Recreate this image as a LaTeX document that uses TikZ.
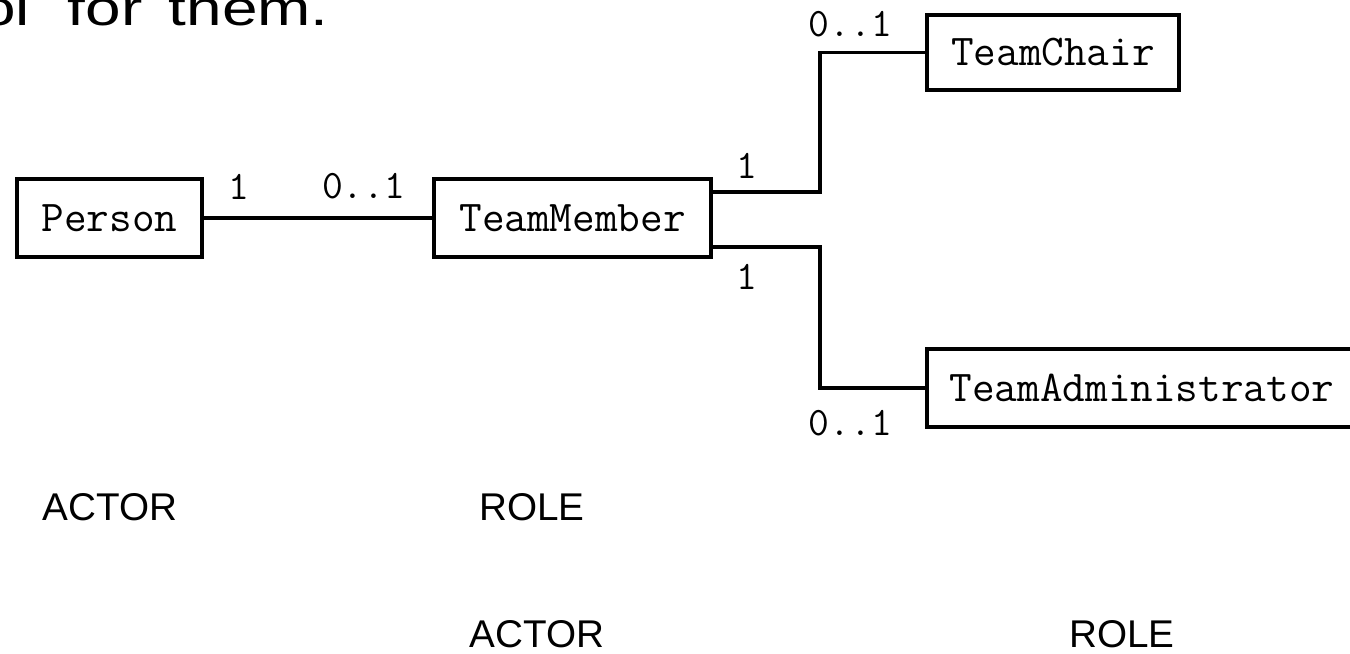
\documentclass[tikz,border=0pt]{standalone}
\usepackage{fontspec}
\usepackage{tikz}
\usetikzlibrary{positioning}
\newfontfamily\slidefont{Liberation Sans}

\begin{document}
\begin{tikzpicture}[x=0.2mm, y=0.2mm,
    box/.style={draw, line width=2pt, inner sep=0pt, minimum height=15.6mm, font=\ttfamily\fontsize{25}{30}\selectfont},
    mult/.style={inner sep=0pt, font=\ttfamily\fontsize{23}{28}\selectfont},
    tag/.style={inner sep=0pt, font=\slidefont\fontsize{22}{26}\selectfont},
    link/.style={line width=2pt}]
    \useasboundingbox (0,0) rectangle (1350,-653);

    \node[anchor=base west, inner sep=0pt, font=\slidefont\fontsize{28}{32}\selectfont] (head) at (-20,-25) {\scalebox{1.3}[1]{ol\hspace{0.59em}for\hspace{0.41em}them.}};

    \node[box, minimum width=37mm] (pers) at (109.5,-218) {Person};
    \node[box, minimum width=55.4mm] (memb) at (572.5,-218) {TeamMember};
    \node[box, minimum width=50.4mm, minimum height=15mm] (chair) at (1053,-52.5) {TeamChair};
    \node[box, minimum width=86mm] (admin) at (1142,-388) {TeamAdministrator};
    \coordinate (split) at (820,-218);

    % Associations
    \draw[link] (pers) -- node[mult, pos=0.155, above=3.4mm]{1} node[mult, pos=0.7, above=3.4mm]{0..1} (memb);
    \draw[link] ([yshift=5.2mm]memb.east) -- node[mult, pos=0.32, above=2.4mm]{1} ([yshift=5.2mm]split) |- node[mult, pos=0.645, above=2.8mm]{0..1} (chair.west);
    \draw[link] ([yshift=-5.8mm]memb.east) -- node[mult, pos=0.32, below=3.2mm]{1} ([yshift=-5.8mm]split) |- node[mult, pos=0.645, below=4.2mm]{0..1} (admin.west);

    \node[tag] (actor1) at (110,-507.5) {ACTOR};
    \node[tag] (role1) at (532,-507.5) {ROLE};
    \node[tag] (actor2) at (537,-634) {ACTOR};
    \node[tag] (role2) at (1122,-634) {ROLE};
\end{tikzpicture}
\end{document}
